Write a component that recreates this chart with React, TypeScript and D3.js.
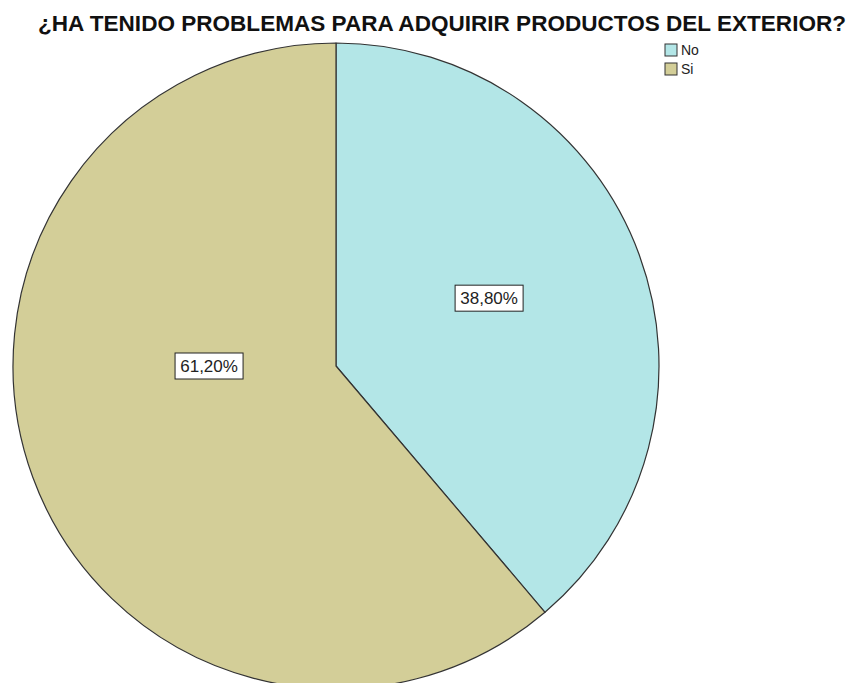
import React from "react";
import * as d3 from "d3";

const categories = ["No", "Si"];
const percents = [38.8, 61.2];
const colors = ["#b3e6e7", "#d3ce98"];
const title = "¿HA TENIDO PROBLEMAS PARA ADQUIRIR PRODUCTOS DEL EXTERIOR?";

const W = 853;
const H = 683;
const cx = 336;
const cy = 366;
const R = 323;
// label placement relative to center, as a fraction of radius (layout only)
const labelOffsets = [
  [0.474, -0.21],
  [-0.393, 0],
];

function fmt(v: number) {
  return v.toFixed(2).replace(".", ",") + "%";
}

export default function App() {
  const pie = d3.pie<number>().sort(null).value((d) => d);
  const arcs = pie(percents);
  const arc = d3.arc<d3.PieArcDatum<number>>().innerRadius(0).outerRadius(R);
  const font = "'Liberation Sans', Arial, sans-serif";
  return (
    <svg
      width={W}
      height={H}
      style={{ position: "absolute", left: 0, top: 0, background: "#fff" }}
    >
      <text
        x={442}
        y={31}
        textAnchor="middle"
        fontFamily={font}
        fontWeight="bold"
        fontSize={22}
        textLength={808}
        lengthAdjust="spacingAndGlyphs"
        fill="#111"
      >
        {title}
      </text>
      <g transform={`translate(${cx},${cy})`}>
        {arcs.map((a, i) => (
          <path
            key={categories[i]}
            d={arc(a) || ""}
            fill={colors[i]}
            stroke="#333"
            strokeWidth={1.2}
            strokeLinejoin="round"
          />
        ))}
        {arcs.map((a, i) => {
          const lx = labelOffsets[i][0] * R;
          const ly = labelOffsets[i][1] * R;
          const w = 68;
          const h = 26;
          return (
            <g key={"l" + i} transform={`translate(${lx},${ly})`}>
              <rect
                x={-w / 2}
                y={-h / 2}
                width={w}
                height={h}
                fill="#fff"
                stroke="#222"
                strokeWidth={1}
              />
              <text
                x={0}
                y={6}
                textAnchor="middle"
                fontFamily={font}
                fontSize={17}
                fill="#222"
              >
                {fmt(a.data)}
              </text>
            </g>
          );
        })}
      </g>
      <g>
        {categories.map((c, i) => (
          <g key={c} transform={`translate(665,${44 + i * 19})`}>
            <rect
              x={0}
              y={0}
              width={12}
              height={12}
              fill={colors[i]}
              stroke="#333"
              strokeWidth={1}
            />
            <text
              x={16}
              y={11}
              fontFamily={font}
              fontSize={14}
              fill="#222"
            >
              {c}
            </text>
          </g>
        ))}
      </g>
    </svg>
  );
}
